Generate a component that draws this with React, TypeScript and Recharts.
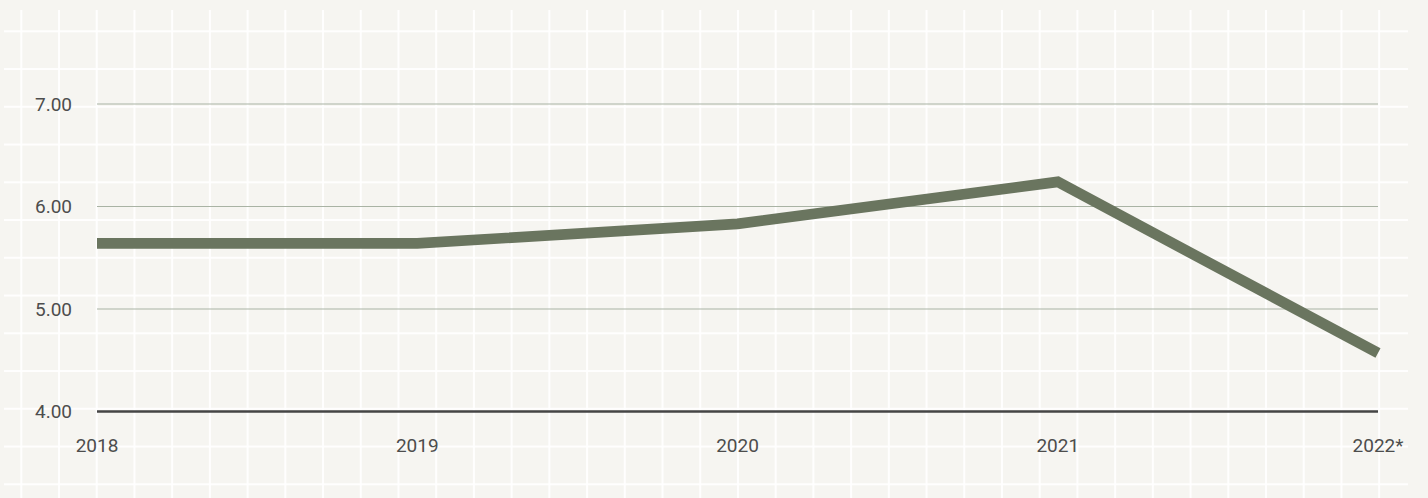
import { LineChart, Line, XAxis, YAxis, CartesianGrid } from "recharts";

const years = ["2018", "2019", "2020", "2021", "2022*"];
const values = [5.64, 5.64, 5.83, 6.24, 4.57];
const yTicks = [4, 5, 6, 7];

const data = years.map((year, i) => ({ year, value: values[i] }));

const W = 1428;
const H = 498;

export default function App() {
    return (
        <div
            style={{
                position: "absolute",
                left: 0,
                top: 0,
                width: W,
                height: H,
                background: "#f6f5f1",
                overflow: "hidden",
                fontFamily: "Roboto, sans-serif",
            }}
        >
            {/* background paper grid */}
            <div
                style={{
                    position: "absolute",
                    left: 4,
                    top: 10,
                    width: 1404,
                    height: 488,
                    backgroundImage:
                        "linear-gradient(to right, rgba(255,255,255,0.95) 1.6px, transparent 1.6px)",
                    backgroundSize: "37.72px 100%",
                    backgroundPosition: "16.3px 0",
                }}
            />
            <div
                style={{
                    position: "absolute",
                    left: 4,
                    top: 10,
                    width: 1404,
                    height: 488,
                    backgroundImage:
                        "linear-gradient(to bottom, rgba(255,255,255,0.95) 1.6px, transparent 1.6px)",
                    backgroundSize: "100% 37.75px",
                    backgroundPosition: "0 20.3px",
                }}
            />
            <div style={{ position: "absolute", left: 0, top: 0 }}>
                <LineChart
                    width={W}
                    height={H}
                    data={data}
                    margin={{ top: 104, right: 50, bottom: 56.5, left: 0 }}
                >
                    <CartesianGrid vertical={false} stroke="#a9b3a4" strokeWidth={1} />
                    <XAxis
                        dataKey="year"
                        height={30}
                        axisLine={{ stroke: "#454545", strokeWidth: 2.3 }}
                        tickLine={false}
                        tickSize={0}
                        tickMargin={27}
                        interval={0}
                        tick={{ fill: "#4d4d4d", fontSize: 19 }}
                    />
                    <YAxis
                        width={97}
                        domain={[4, 7]}
                        ticks={yTicks}
                        axisLine={false}
                        tickLine={false}
                        tickSize={0}
                        tickMargin={25}
                        tickFormatter={(v: number) => v.toFixed(2)}
                        tick={{ fill: "#4d4d4d", fontSize: 19 }}
                    />
                    <Line
                        type="linear"
                        dataKey="value"
                        stroke="#6a755f"
                        strokeWidth={10.7}
                        dot={false}
                        activeDot={false}
                        isAnimationActive={false}
                    />
                </LineChart>
            </div>
        </div>
    );
}
